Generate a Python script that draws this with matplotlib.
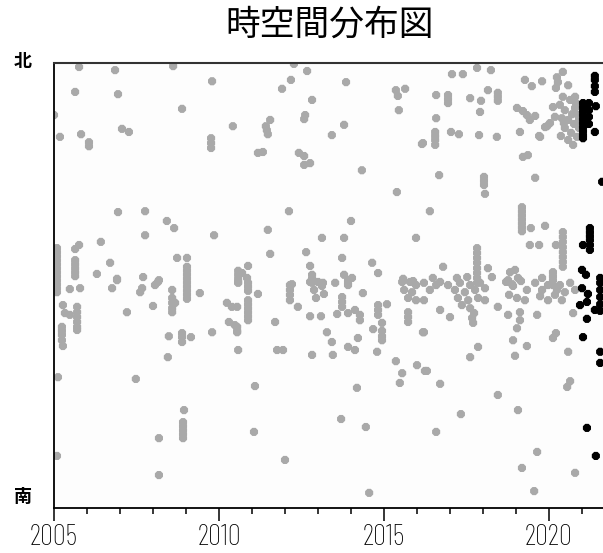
import matplotlib
matplotlib.use("Agg")
import matplotlib.pyplot as plt
import numpy as np

# ------------------ datos: (año, posición norte-sur 0=南 .. 100=北) ------------------
gray_2005_2010 = [
    (2005.76, 99.1), (2006.85, 98.4), (2008.61, 99.3), (2009.79, 95.9), (2005.64, 93.5),
    (2006.94, 93.0), (2008.88, 89.7), (2005.00, 88.3), (2010.42, 85.8), (2005.18, 83.4),
    (2005.82, 84.0), (2007.06, 85.2), (2007.27, 84.5), (2006.06, 82.2), (2006.06, 81.3),
    (2009.76, 83.1), (2009.76, 82.0), (2009.76, 80.9), (2006.94, 66.5), (2007.76, 66.7),
    (2008.42, 64.5), (2008.64, 62.9), (2007.76, 61.3), (2009.85, 61.3), (2006.42, 59.8),
    (2005.64, 58.2), (2005.76, 59.1),
    (2005.09, 58.4), (2005.09, 57.5), (2005.09, 56.6), (2005.09, 55.7), (2005.09, 54.8),
    (2005.09, 53.9), (2005.09, 53.0), (2005.09, 52.1), (2005.09, 51.2), (2005.09, 50.3),
    (2005.09, 49.4), (2005.09, 48.5),
    (2005.64, 55.7), (2005.64, 54.8), (2005.64, 53.9), (2005.64, 53.0), (2005.64, 52.1),
    (2006.70, 55.1), (2008.73, 56.2), (2009.03, 56.2),
    (2009.03, 54.2), (2009.03, 53.3), (2009.03, 52.4), (2009.03, 51.5), (2009.03, 50.6),
    (2009.03, 49.7), (2009.03, 48.8), (2009.03, 47.9), (2009.03, 47.0),
    (2006.30, 52.6), (2006.91, 51.5), (2007.70, 51.9), (2008.18, 51.2),
    (2010.58, 53.3), (2010.58, 52.4), (2010.58, 51.5), (2010.58, 50.6),
    (2005.48, 49.2), (2005.79, 49.4), (2006.76, 49.4), (2006.91, 51.2), (2007.61, 48.5),
    (2007.67, 49.4), (2008.06, 50.1), (2008.15, 50.8), (2008.58, 49.0), (2009.42, 48.3),
    (2005.27, 45.6), (2005.33, 43.8), (2005.70, 45.2), (2005.70, 44.0), (2005.70, 42.9),
    (2005.70, 41.8), (2005.70, 40.7), (2005.70, 40.0), (2005.48, 43.4), (2007.21, 44.0),
    (2008.00, 45.4), (2008.58, 47.2), (2008.58, 46.1), (2008.58, 44.9), (2008.58, 44.0),
    (2008.67, 46.1), (2010.24, 46.1), (2010.39, 45.2), (2005.24, 40.7), (2005.24, 39.8),
    (2005.24, 38.9), (2005.24, 37.7), (2005.27, 36.4), (2008.48, 38.6), (2008.88, 39.3),
    (2008.88, 38.4), (2008.88, 37.3), (2009.15, 38.4), (2009.79, 39.5), (2010.30, 41.8),
    (2010.48, 41.1), (2010.55, 39.5), (2008.45, 33.9), (2005.12, 29.4), (2007.48, 29.0),
    (2008.94, 22.0), (2008.91, 19.3), (2008.91, 18.4), (2008.91, 17.5), (2008.91, 16.6),
    (2008.91, 15.7), (2008.18, 15.7), (2005.09, 11.7), (2008.18, 7.4),
]

gray_2010_2016 = [
    (2012.27, 99.8), (2012.67, 98.2), (2012.18, 96.2), (2011.91, 94.2), (2013.85, 95.7),
    (2015.36, 93.9), (2015.64, 94.2), (2015.42, 92.6), (2012.82, 91.7), (2015.45, 89.4),
    (2012.61, 88.3), (2012.58, 87.4), (2011.55, 87.2), (2011.42, 85.8), (2011.45, 84.9),
    (2011.48, 84.0), (2013.79, 86.1), (2013.42, 83.8), (2016.15, 81.8), (2011.18, 79.8),
    (2011.33, 80.0), (2012.42, 79.8), (2012.58, 79.1), (2012.58, 77.1), (2012.76, 77.5),
    (2014.33, 75.9), (2015.39, 71.0), (2012.12, 66.7), (2014.00, 64.5), (2011.48, 62.5),
    (2013.12, 60.7), (2013.79, 60.7), (2015.97, 60.7), (2011.55, 57.1), (2012.64, 57.5),
    (2013.73, 56.2), (2014.64, 55.1), (2014.82, 52.8),
    (2010.88, 54.4), (2010.70, 52.8), (2010.85, 51.7), (2010.58, 50.8), (2010.88, 50.6),
    (2010.88, 49.7), (2010.88, 48.8), (2011.18, 48.1), (2010.88, 46.7), (2010.88, 45.8),
    (2010.88, 44.9), (2010.88, 44.0), (2010.88, 43.1), (2010.88, 42.2), (2010.55, 45.2),
    (2010.55, 40.7), (2010.55, 39.8),
    (2012.76, 54.4), (2012.82, 52.4), (2012.82, 51.5), (2012.82, 50.6), (2012.21, 50.3),
    (2013.15, 50.6), (2013.52, 50.6), (2013.79, 52.4), (2014.03, 51.7), (2013.91, 50.6),
    (2015.58, 51.5), (2015.88, 51.0),
    (2012.15, 50.1), (2012.15, 49.0), (2012.15, 47.9), (2012.15, 46.7), (2012.39, 45.2),
    (2012.76, 50.8), (2013.00, 50.8), (2013.12, 49.9), (2012.88, 49.0), (2013.18, 48.1),
    (2012.94, 47.2), (2013.91, 51.2), (2013.91, 50.1), (2014.36, 48.3), (2013.73, 47.4),
    (2013.73, 46.3), (2013.73, 45.2), (2012.76, 43.1), (2013.09, 43.1), (2013.58, 43.6),
    (2013.91, 43.8), (2014.12, 44.5), (2014.27, 43.4), (2014.27, 42.2), (2014.82, 45.6),
    (2014.82, 44.5), (2014.82, 43.4), (2015.09, 45.8), (2015.55, 50.8), (2015.79, 50.8),
    (2015.97, 50.1), (2015.61, 49.0), (2015.85, 48.5), (2015.73, 47.2), (2015.97, 46.7),
    (2015.73, 44.0), (2015.73, 42.9), (2015.73, 41.8), (2011.70, 41.8), (2013.27, 39.5),
    (2013.42, 37.3), (2014.21, 38.2), (2014.67, 40.2), (2014.94, 41.6), (2014.94, 39.8),
    (2014.94, 38.6), (2014.94, 37.7), (2016.18, 39.5), (2010.58, 35.5), (2011.76, 35.5),
    (2011.94, 35.5), (2012.82, 34.4), (2013.45, 34.4), (2013.91, 36.2), (2014.12, 35.5),
    (2014.79, 35.1), (2015.36, 33.0), (2015.55, 30.3), (2015.48, 28.1), (2016.00, 32.1),
    (2016.24, 30.8), (2011.09, 27.4), (2014.18, 27.0), (2013.70, 20.0), (2014.45, 18.2),
    (2011.06, 17.1), (2012.00, 10.8), (2014.55, 3.4),
]

gray_2016_2021 = [
    (2017.82, 98.9), (2018.24, 98.4), (2017.06, 97.5), (2017.39, 97.5), (2019.27, 96.2),
    (2019.48, 94.8), (2019.79, 95.9), (2020.24, 96.8), (2020.42, 98.0), (2020.27, 95.7),
    (2020.21, 94.4), (2020.58, 95.0), (2018.15, 93.9), (2016.58, 92.8), (2016.94, 92.8),
    (2016.94, 91.9), (2016.94, 91.0), (2017.61, 92.1), (2017.94, 91.5), (2017.91, 89.0),
    (2018.45, 93.3), (2018.45, 92.4), (2018.45, 91.5), (2020.42, 92.4), (2020.79, 92.4),
    (2019.03, 89.9), (2019.21, 89.2), (2019.33, 88.3), (2019.58, 88.1), (2019.42, 87.2),
    (2020.12, 90.1), (2020.18, 87.9), (2020.03, 86.5), (2019.88, 85.6),
    (2020.33, 90.6), (2020.48, 89.4), (2020.64, 91.7), (2020.79, 89.9), (2020.88, 88.3),
    (2020.39, 87.6), (2020.58, 87.2), (2020.76, 86.3), (2020.91, 85.4), (2020.48, 85.4),
    (2020.67, 84.3), (2020.85, 83.4), (2020.36, 83.6), (2020.58, 82.7), (2020.82, 91.0),
    (2020.91, 87.2), (2020.70, 88.5), (2020.45, 86.5),
    (2020.73, 81.6), (2019.94, 85.8), (2019.73, 83.4), (2019.12, 84.5), (2019.21, 78.9),
    (2019.36, 79.3), (2016.58, 87.6), (2016.55, 84.5), (2016.55, 83.6), (2016.55, 82.7),
    (2016.55, 81.6), (2016.18, 82.0), (2017.03, 84.5), (2017.27, 84.0), (2017.88, 83.8),
    (2018.42, 83.4), (2019.70, 83.6), (2016.67, 74.8), (2018.03, 74.4), (2018.03, 73.5),
    (2018.03, 72.6), (2018.06, 70.6), (2019.58, 74.2), (2016.39, 66.7),
    (2019.18, 67.6), (2019.18, 66.7), (2019.18, 65.8), (2019.18, 64.9), (2019.18, 64.0),
    (2019.18, 63.1), (2019.18, 62.2), (2019.45, 62.9), (2019.88, 63.4),
    (2020.42, 62.0), (2020.42, 60.9), (2020.42, 59.8), (2020.42, 58.6), (2020.42, 57.5),
    (2020.42, 56.4), (2020.42, 55.3), (2020.42, 54.2),
    (2019.42, 59.1), (2019.70, 59.1), (2020.21, 59.1),
    (2017.82, 58.4), (2017.82, 57.3), (2017.82, 56.2), (2017.82, 55.1), (2017.82, 53.9),
    (2017.82, 52.8), (2017.82, 51.7), (2017.82, 50.6),
    (2018.15, 53.9), (2016.79, 54.2), (2016.48, 51.7), (2016.70, 50.8), (2017.21, 51.7),
    (2017.52, 51.9), (2018.27, 51.9), (2018.82, 53.0), (2018.97, 53.5), (2018.76, 51.2),
    (2019.06, 51.7), (2018.88, 50.3), (2019.79, 51.7),
    (2020.12, 53.0), (2020.12, 52.1), (2020.12, 51.2), (2020.12, 50.1),
    (2016.21, 50.6), (2016.39, 49.0), (2016.21, 46.7), (2016.58, 50.1), (2016.70, 44.5),
    (2017.00, 42.9), (2016.94, 50.1), (2017.15, 49.0), (2017.30, 50.6), (2017.45, 48.5),
    (2017.61, 50.1), (2017.76, 49.0), (2017.91, 50.6), (2018.06, 49.4), (2017.24, 47.2),
    (2017.55, 46.7), (2017.85, 47.2), (2017.61, 44.9), (2017.73, 43.8), (2017.67, 42.7),
    (2017.70, 41.6), (2017.36, 45.6), (2018.06, 46.7),
    (2018.45, 45.2), (2018.70, 50.8), (2018.91, 49.9), (2019.15, 51.0), (2019.33, 49.0),
    (2018.79, 47.9), (2019.03, 47.2), (2019.27, 46.7), (2018.76, 43.4), (2019.12, 44.0),
    (2019.64, 43.4), (2019.12, 42.2), (2019.03, 40.4),
    (2019.58, 50.6), (2019.79, 49.0), (2019.97, 50.1), (2019.73, 47.6), (2020.18, 47.9),
    (2020.33, 50.1), (2020.48, 48.5), (2020.64, 50.6), (2020.79, 49.0), (2019.97, 46.7),
    (2020.24, 49.0), (2020.39, 46.7), (2020.73, 43.8),
    (2016.21, 39.5), (2018.91, 37.7), (2019.33, 36.4), (2017.85, 36.2), (2017.61, 33.9),
    (2018.97, 34.2), (2020.12, 38.2), (2020.21, 39.3), (2020.58, 35.1), (2016.30, 30.8),
    (2016.70, 27.9), (2020.55, 27.2), (2020.64, 28.5), (2018.45, 25.4), (2017.33, 21.1),
    (2019.06, 22.0), (2016.58, 17.1), (2019.64, 12.6), (2019.18, 9.0), (2020.79, 7.9),
    (2019.55, 3.8),
]

black_2021 = [
    (2021.39, 97.1), (2021.39, 96.2), (2021.39, 94.8), (2021.39, 93.5),
    (2021.03, 91.0), (2021.03, 90.1), (2021.03, 89.2), (2021.03, 88.3), (2021.03, 87.4),
    (2021.03, 86.5), (2021.03, 85.6), (2021.03, 84.7), (2021.03, 83.8), (2021.03, 83.1),
    (2021.21, 91.0), (2021.21, 89.4), (2021.21, 87.9), (2021.21, 86.3),
    (2021.39, 84.5), (2021.42, 90.3), (2021.61, 73.3),
    (2021.24, 62.9), (2021.24, 62.0), (2021.24, 61.1), (2021.24, 60.2), (2021.24, 59.1),
    (2021.24, 58.0), (2021.03, 59.1), (2021.00, 53.5), (2021.12, 52.4),
    (2021.55, 51.7), (2021.55, 50.6), (2021.55, 49.0), (2021.55, 47.4), (2021.55, 45.8),
    (2021.55, 44.3), (2021.00, 49.4), (2021.18, 48.1), (2021.15, 46.3), (2020.94, 45.6),
    (2021.39, 44.5), (2021.15, 42.5), (2021.03, 38.4), (2021.55, 35.1), (2021.55, 32.6),
    (2021.15, 18.0), (2021.42, 11.7),
]

year_ticks = [2005, 2010, 2015, 2020]

# ------------------ figura ------------------
plt.rcParams['font.family'] = ['Noto Sans CJK JP', 'DejaVu Sans']

fig = plt.figure(figsize=(6.03, 5.53), dpi=100)
ax = fig.add_axes([54 / 603, 45 / 553, 549 / 603, 445 / 553])
ax.set_facecolor('#fdfdfd')

gray = np.array(gray_2005_2010 + gray_2010_2016 + gray_2016_2021)
black = np.array(black_2021)
ax.scatter(gray[:, 0], gray[:, 1], s=40, marker='8', color='#a9a9a9',
           edgecolors='none', zorder=2)
ax.scatter(black[:, 0], black[:, 1], s=40, marker='8', color='black',
           edgecolors='none', zorder=3)

ax.set_xlim(2005, 2005 + 549 / 33)
ax.set_ylim(0, 100)

ax.set_xticks(year_ticks)
ax.set_xticks(np.arange(2005, 2022), minor=True)
ax.set_xticklabels([str(y) for y in year_ticks],
                   family=['Barlow Condensed', 'DejaVu Sans'], fontweight='light',
                   fontsize=21)
ax.tick_params(axis='x', which='major', direction='out', length=9.5, width=1.1, pad=2)
ax.tick_params(axis='x', which='minor', direction='out', length=4.5, width=1.1)
ax.set_yticks([])

ax.spines['right'].set_visible(False)
for side in ['left', 'bottom']:
    ax.spines[side].set_linewidth(1.3)
    ax.spines[side].set_color('black')
ax.spines['top'].set_linewidth(1.5)
ax.spines['top'].set_color('#333333')

fig.text(330 / 603, 1 - 25 / 553, '時空間分布図', ha='center', va='center', fontsize=25)
fig.text(23 / 603, 1 - 62 / 553, '北', ha='center', va='center', fontsize=13, fontweight='bold')
fig.text(23 / 603, 1 - 497 / 553, '南', ha='center', va='center', fontsize=13, fontweight='bold')

fig.savefig('out.png', dpi=100)
